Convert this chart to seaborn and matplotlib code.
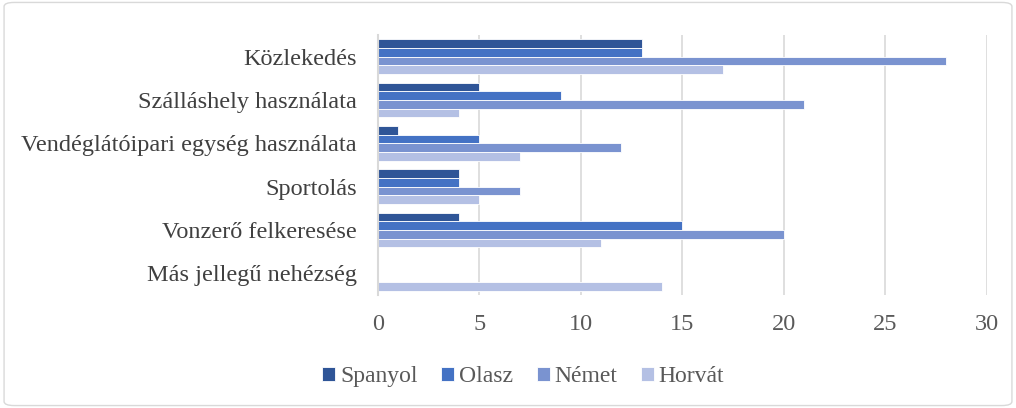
import pandas as pd
import matplotlib.pyplot as plt
import seaborn as sns
from matplotlib.patches import FancyBboxPatch

categories = ['Közlekedés', 'Szálláshely használata', 'Vendéglátóipari egység használata',
              'Sportolás', 'Vonzerő felkeresése', 'Más jellegű nehézség']
spanyol = [13, 5, 1, 4, 4, 0]
olasz = [13, 9, 5, 4, 15, 0]
nemet = [28, 21, 12, 7, 20, 0]
horvat = [17, 4, 7, 5, 11, 14]
series = ['Spanyol', 'Olasz', 'Német', 'Horvát']
colors = ['#2F5597', '#4472C4', '#7A93D0', '#B4C0E4']

rows = []
for name, vals in zip(series, [spanyol, olasz, nemet, horvat]):
    for cat, v in zip(categories, vals):
        rows.append({'cat': cat, 'nyelv': name, 'ertek': v})
df = pd.DataFrame(rows)

sns.set_style('white')
plt.rcParams['font.family'] = ['Liberation Serif', 'DejaVu Serif']

fig = plt.figure(figsize=(10.16, 4.08), dpi=100)
ax = fig.add_axes([0.372, 0.277, 0.599, 0.637])

sns.barplot(data=df, y='cat', x='ertek', hue='nyelv', order=categories, hue_order=series,
            palette=colors, saturation=1, orient='h', width=0.8, edgecolor='white',
            linewidth=0.6, ax=ax)

ax.set_xlim(0, 30)
ax.set_xticks([0, 5, 10, 15, 20, 25, 30])
ax.xaxis.grid(True, color='#D9D9D9', linewidth=1.2)
ax.set_axisbelow(True)
for s in ['top', 'right', 'bottom']:
    ax.spines[s].set_visible(False)
ax.spines['left'].set_color('#D9D9D9')
ax.spines['left'].set_linewidth(1.5)
ax.set_xlabel('')
ax.set_ylabel('')
ax.tick_params(axis='x', labelsize=17.5, colors='#595959', length=0, pad=14)
ax.tick_params(axis='y', labelsize=17.5, colors='#404040', length=0, pad=15)

ax.legend(loc='center', bbox_to_anchor=(0.515, 0.077), bbox_transform=fig.transFigure,
          ncol=4, frameon=False, fontsize=17, handlelength=0.55, handleheight=0.55,
          handletextpad=0.2, columnspacing=1.0, labelcolor='#595959')

border = FancyBboxPatch((0.004, 0.006), 0.992, 0.988, boxstyle='round,pad=0,rounding_size=0.01',
                        transform=fig.transFigure, facecolor='none', edgecolor='#D9D9D9',
                        linewidth=1.0)
fig.patches.append(border)

fig.savefig('out.png', dpi=100)
